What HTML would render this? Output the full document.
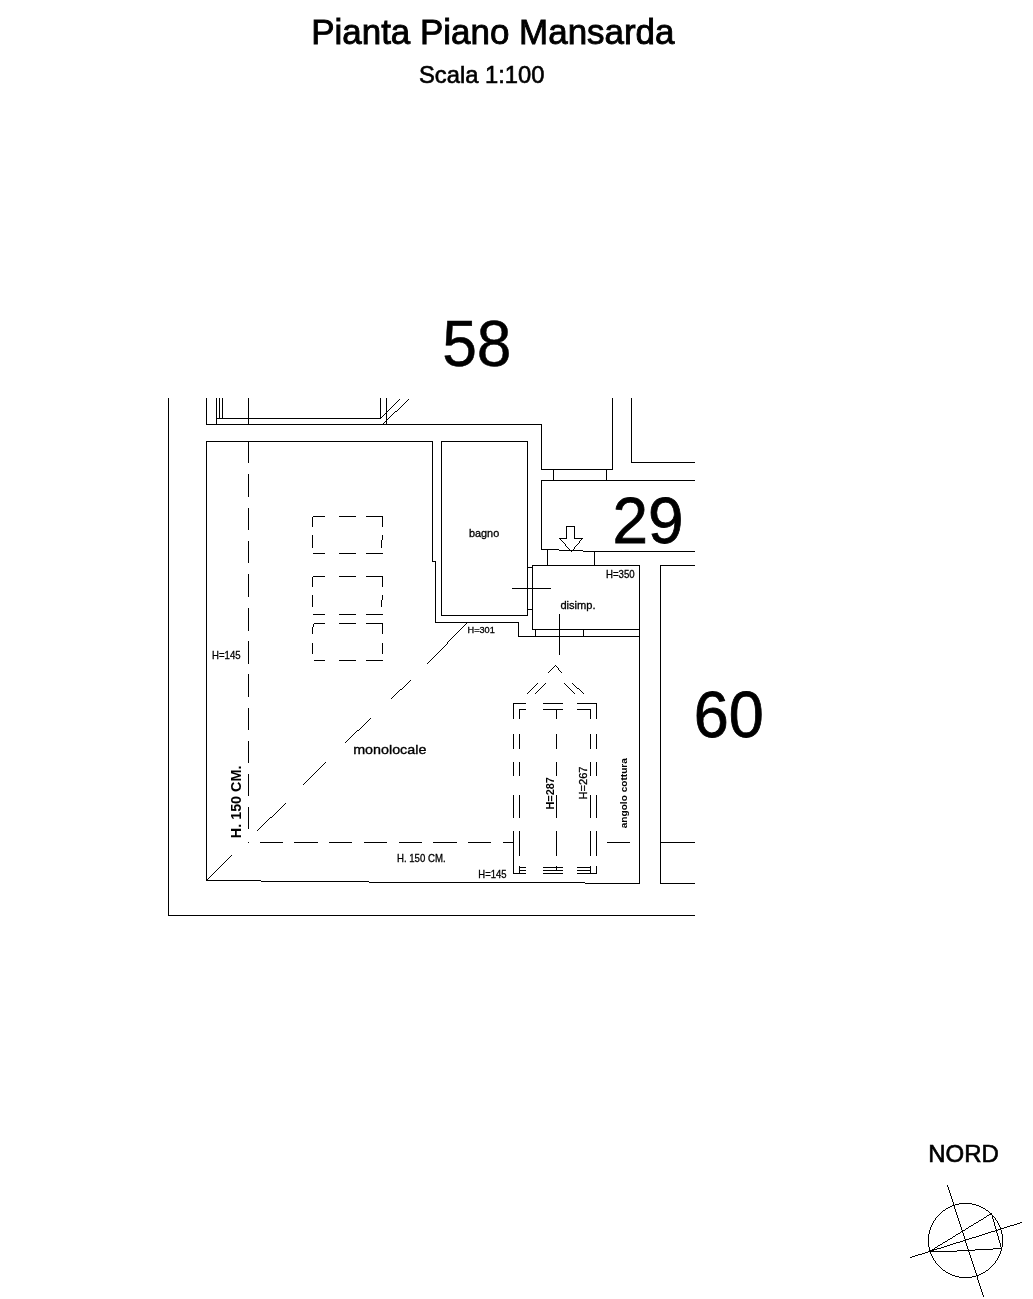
<!DOCTYPE html>
<html>
<head>
<meta charset="utf-8">
<title>Pianta Piano Mansarda</title>
<style>
html,body{margin:0;padding:0;background:#fff;}
body{width:1033px;height:1299px;overflow:hidden;font-family:"Liberation Sans",sans-serif;}
svg{display:block;position:absolute;left:0;top:0;filter:grayscale(1);}
text{font-family:"Liberation Sans",sans-serif;fill:#000;}
.w{fill:none;stroke:#000;stroke-width:1;shape-rendering:crispEdges;}
.d{fill:none;stroke:#000;stroke-width:1;shape-rendering:crispEdges;}
</style>
</head>
<body>
<svg width="1033" height="1299" viewBox="0 0 1033 1299">
<rect x="0" y="0" width="1033" height="1299" fill="#fff"/>

<!-- titles -->
<text x="311.2" y="43.5" font-size="35" textLength="363.3" lengthAdjust="spacingAndGlyphs" stroke="#000" stroke-width="0.9">Pianta Piano Mansarda</text>
<text x="419" y="83.4" font-size="23.2" textLength="125.5" lengthAdjust="spacingAndGlyphs" stroke="#000" stroke-width="0.6">Scala 1:100</text>

<!-- big numbers -->
<text x="442.2" y="365.8" font-size="64.6" textLength="69.3" lengthAdjust="spacingAndGlyphs" stroke="#000" stroke-width="0.5">58</text>
<text x="612.6" y="542.9" font-size="64.9" textLength="71" lengthAdjust="spacingAndGlyphs" stroke="#000" stroke-width="0.8">29</text>
<text x="693.8" y="736.5" font-size="64.4" textLength="70" lengthAdjust="spacingAndGlyphs" stroke="#000" stroke-width="0.8">60</text>

<!-- outer walls -->
<path class="w" d="M168.5,398 V915.5 H695"/>

<!-- top-left structure -->
<path class="w" d="M206.5,398 V424.5 H541.5 V469.5 H612.5 V398"/>
<path class="w" d="M216.5,398 V424.5 M219.5,398 V418.5 M222.5,398 V418.5 M216.5,418.5 H380.5 M248.5,398 V424.5 M380.5,398 V418.5 M386.5,398 V424.5"/>
<path class="w" d="M399,399.5h1M408,399.5h1M398,400.5h1M407,400.5h1M397,401.5h1M406,401.5h1M396,402.5h1M405,402.5h1M395,403.5h1M404,403.5h1M394,404.5h1M403,404.5h1M393,405.5h1M402,405.5h1M392,406.5h1M401,406.5h1M391,407.5h1M400,407.5h1M390,408.5h1M399,408.5h1M389,409.5h1M398,409.5h1M388,410.5h1M397,410.5h1M387,411.5h1M395,411.5h2M386,412.5h1M394,412.5h1M385,413.5h1M393,413.5h1M384,414.5h1M392,414.5h1M383,415.5h1M391,415.5h1M382,416.5h1M390,416.5h1M381,417.5h1M389,417.5h1M380,418.5h1M388,418.5h1M387,419.5h1M386,420.5h1M385,421.5h1M384,422.5h1M383,423.5h1M382,424.5h1"/>

<!-- upper right -->
<path class="w" d="M631.5,398 V462.5 H695"/>

<!-- main room -->
<path class="w" d="M206.5,880 V441.5 H432.5 V561.5 H435.5 V622.5 H518.5 V636.5 H639.5"/>
<path class="w" d="M639.5,565.5 V884"/>
<path class="w" d="M206.5,880.5 H261 M261,881.5 H369 M369,882.5 H585 M585,883.5 H640"/>

<!-- bagno -->
<path class="w" d="M441.5,441.5 H527.5 V615.5 H441.5 Z"/>

<!-- disimpegno -->
<path class="w" d="M639.5,565.5 H532.5 V629.5 H639.5 M527.5,567.5 H532.5 M527.5,609.5 H532.5 M535.5,629.5 V636.5 M583.5,629.5 V636.5"/>

<!-- corridor 29 -->
<path class="w" d="M553.5,469.5 V480.5 M606.5,469.5 V480.5 M695,480.5 H541.5 V549.5 M547.5,550 V565.5 M594.5,551 V565.5"/>
<path class="w" d="M541.5,549.5 H558.6 M558.6,550.5 H583 M583,551.5 H695"/>
<path class="w" d="M566.5,538.5 V526.5 H574.5 V538.5 M559,538.5 H567 M574,538.5 H583"/>
<path class="w" d="M559,538.5h1M582,538.5h1M560,539.5h1M581,539.5h1M561,540.5h1M580,540.5h1M562,541.5h1M579,541.5h1M563,542.5h1M579,542.5h1M564,543.5h1M578,543.5h1M565,544.5h1M577,544.5h1M565,545.5h1M576,545.5h1M566,546.5h1M575,546.5h1M567,547.5h1M574,547.5h1M568,548.5h1M574,548.5h1M569,549.5h1M573,549.5h1M570,550.5h1M572,550.5h1M571,551.5h1"/>

<!-- right room 60 -->
<path class="w" d="M695,565.5 H660.5 V883.5 H695 M660.5,842.5 H695"/>

<!-- crosses -->
<path class="w" d="M512,588.5 H551 M559.5,613.5 V654.5"/>

<!-- dashed vertical H150 -->
<path class="w" d="M248.5,441.5 V462.8 M248.5,474.2 V496.7 M248.5,507.7 V529.6 M248.5,540.6 V563.1 M248.5,573.5 V597 M248.5,607.5 V630.9 M248.5,640.9 V663.8 M248.5,674.2 V696.7 M248.5,707.7 V730.2 M248.5,741 V763.2 M248.5,773.7 V795.8 M248.5,806.8 V829.3 M248.5,841.5 V843"/>
<!-- dashed horizontal H150 -->
<path class="w" d="M259.7,842.5 H282.6 M294,842.5 H317.5 M329.1,842.5 H351.5 M364.3,842.5 H386.8 M398.8,842.5 H421.7 M433.3,842.5 H456.6 M468,842.5 H490.5 M503,842.5 H513.5 M607,842.5 H630"/>

<!-- dashed diagonal -->
<path class="w" d="M467,622.5h1M466,623.5h1M465,624.5h1M464,625.5h1M463,626.5h1M462,627.5h1M461,628.5h1M460,629.5h1M459,630.5h1M458,631.5h1M457,632.5h1M456,633.5h1M455,634.5h1M454,635.5h1M453,636.5h1M452,637.5h1M451,638.5h1M450,639.5h1M449,640.5h1M448,641.5h1M447,642.5h1M447,643.5h1M446,644.5h1M445,645.5h1M444,646.5h1M443,647.5h1M442,648.5h1M441,649.5h1M440,650.5h1M439,651.5h1M438,652.5h1M437,653.5h1M436,654.5h1M435,655.5h1M434,656.5h1M433,657.5h1M432,658.5h1M431,659.5h1M430,660.5h1M429,661.5h1M428,662.5h1M427,663.5h1M410,680.5h1M409,681.5h1M408,682.5h1M407,683.5h1M406,684.5h1M405,685.5h1M404,686.5h1M403,687.5h1M402,688.5h1M400,689.5h2M399,690.5h1M398,691.5h1M397,692.5h1M396,693.5h1M395,694.5h1M394,695.5h1M393,696.5h1M392,697.5h1M391,698.5h1M370,718.5h1M369,719.5h1M368,720.5h1M367,721.5h1M366,722.5h1M365,723.5h1M364,724.5h1M363,725.5h1M362,726.5h1M361,727.5h1M360,728.5h1M359,729.5h1M357,730.5h2M356,731.5h1M355,732.5h1M354,733.5h1M353,734.5h1M352,735.5h1M351,736.5h1M350,737.5h1M349,738.5h1M348,739.5h1M347,740.5h1M346,741.5h1M345,742.5h1M325,762.5h1M324,763.5h1M323,764.5h1M322,765.5h1M321,766.5h1M320,767.5h1M319,768.5h1M318,769.5h1M317,770.5h1M316,771.5h1M315,772.5h1M314,773.5h1M313,774.5h1M312,775.5h1M311,776.5h1M310,777.5h1M309,778.5h1M308,779.5h1M307,780.5h1M306,781.5h1M305,782.5h1M304,783.5h1M303,784.5h1M285,803.5h1M284,804.5h1M283,805.5h1M282,806.5h1M281,807.5h1M280,808.5h1M279,809.5h1M278,810.5h1M277,811.5h1M276,812.5h1M275,813.5h1M274,814.5h1M273,815.5h1M272,816.5h1M270,817.5h2M269,818.5h1M268,819.5h1M267,820.5h1M266,821.5h1M265,822.5h1M264,823.5h1M263,824.5h1M262,825.5h1M261,826.5h1M260,827.5h1M259,828.5h1M258,829.5h1M257,830.5h1M231,855.5h1M230,856.5h1M229,857.5h1M228,858.5h1M227,859.5h1M226,860.5h1M225,861.5h1M224,862.5h1M223,863.5h1M222,864.5h1M221,865.5h1M220,866.5h1M219,867.5h1M218,868.5h1M217,869.5h1M216,870.5h1M215,871.5h1M214,872.5h1M213,873.5h1M212,874.5h1M211,875.5h1M210,876.5h1M209,877.5h1M208,878.5h1M207,879.5h1M206,880.5h1"/>

<!-- dashed skylight rectangles -->
<g class="w">
<path d="M312.5,516.5 H325 M339.3,516.5 H355.8 M366.4,516.5 H382.5 M312.5,553.5 H325 M339.3,553.5 H355.8 M366.4,553.5 H382.5 M312.5,516.5 V526.6 M312.5,535.2 V547.5 M382.5,516.5 V526.6 M382.5,535.2 V540 M381.5,540 V547.5"/>
<path d="M312.5,576.5 H325 M339.3,576.5 H355.8 M366.4,576.5 H382.5 M312.5,614.5 H325 M339.3,614.5 H355.8 M366.4,614.5 H382.5 M312.5,576.5 V586.5 M312.5,595.4 V606.8 M382.5,576.5 V586.5 M382.5,595.4 V600 M381.5,600 V606.8"/>
<path d="M313.5,623.5 H325 M339.3,623.5 H355.8 M366.4,623.5 H382.5 M313.5,660.5 H325 M339.3,660.5 H355.8 M366.4,660.5 H382.5 M313.5,623.5 V627 M312.5,627 V633.7 M312.5,642.7 V654.1 M382.5,623.5 V633.7 M382.5,642.7 V654.1"/>
</g>

<!-- dormer (dashed) -->
<path class="w" d="M555,665.5h1M554,666.5h1M556,666.5h1M553,667.5h1M557,667.5h1M552,668.5h1M558,668.5h1M551,669.5h1M558,669.5h1M550,670.5h1M559,670.5h1M549,671.5h1M560,671.5h1M548,672.5h1M561,672.5h1M537,683.5h1M545,683.5h1M564,683.5h1M572,683.5h1M536,684.5h1M544,684.5h1M565,684.5h1M573,684.5h1M535,685.5h1M543,685.5h1M566,685.5h1M574,685.5h1M534,686.5h1M542,686.5h1M567,686.5h1M575,686.5h1M533,687.5h1M541,687.5h1M568,687.5h1M576,687.5h1M532,688.5h1M540,688.5h1M569,688.5h1M577,688.5h2M531,689.5h1M539,689.5h1M570,689.5h1M579,689.5h1M530,690.5h1M538,690.5h1M571,690.5h1M580,690.5h1M529,691.5h1M537,691.5h1M572,691.5h1M581,691.5h1M528,692.5h1M536,692.5h1M573,692.5h1M582,692.5h1M527,693.5h1M535,693.5h1M574,693.5h1M583,693.5h1"/>
<g class="w">
<!-- top corners -->
<path d="M513.5,718.9 V703.5 H525.5 M519.5,718.9 V709.5 H525.5 M543.3,703.5 H562.8 M543.3,709.5 H562.8 M556.5,709.5 V718.9 M577.4,703.5 H596.5 V718.9 M577.4,709.5 H590.5 V718.9"/>
<!-- dashes -->
<path d="M513.5,734.3 V749.4 M519.5,734.3 V749.4 M556.5,734.3 V749.4 M590.5,734.3 V749.4 M596.5,734.3 V749.4"/>
<path d="M513.5,762.2 V775.7 M519.5,762.2 V775.7 M556.5,762.2 V775.7 M590.5,762.2 V775.7 M596.5,762.2 V775.7"/>
<path d="M513.5,794.7 V818.2 M519.5,794.7 V818.2 M556.5,794.7 V818.2 M590.5,794.7 V818.2 M596.5,794.7 V818.2"/>
<path d="M513.5,831.2 V873.5 H525.5 M519.5,831.2 V855.5 M556.5,831.2 V855.5 M590.5,831.2 V855.5 M596.5,831.2 V855.5"/>
<!-- bottom -->
<path d="M519.5,865.9 V873.5 M519.5,867.5 H525.5 M519.5,870.5 H525.5 M543.3,867.5 H562.8 M543.3,870.5 H562.8 M543.3,873.5 H562.8 M556.5,865.9 V870.5 M577.4,867.5 H590.5 M577.4,870.5 H590.5 M577.4,873.5 H596.5 M590.5,865.9 V873.5 M596.5,865.9 V873.5"/>
</g>

<!-- labels -->
<text x="469" y="536.6" font-size="11" textLength="30.2" lengthAdjust="spacingAndGlyphs" stroke="#000" stroke-width="0.3">bagno</text>
<text x="560.4" y="608.8" font-size="11" textLength="35.2" lengthAdjust="spacingAndGlyphs" stroke="#000" stroke-width="0.3">disimp.</text>
<text x="606" y="577.9" font-size="10.3" textLength="28.6" lengthAdjust="spacingAndGlyphs" stroke="#000" stroke-width="0.3">H=350</text>
<text x="467.5" y="633.3" font-size="9.5" textLength="27.3" lengthAdjust="spacingAndGlyphs" stroke="#000" stroke-width="0.3">H=301</text>
<text x="212.1" y="658.8" font-size="10.3" textLength="28.5" lengthAdjust="spacingAndGlyphs" stroke="#000" stroke-width="0.3">H=145</text>
<text x="478.3" y="877.6" font-size="10.3" textLength="28.2" lengthAdjust="spacingAndGlyphs" stroke="#000" stroke-width="0.3">H=145</text>
<text x="397" y="861.6" font-size="10.5" textLength="48.6" lengthAdjust="spacingAndGlyphs" stroke="#000" stroke-width="0.3">H. 150 CM.</text>
<text x="353.2" y="753.7" font-size="13" textLength="73.2" lengthAdjust="spacingAndGlyphs" stroke="#000" stroke-width="0.35">monolocale</text>

<!-- rotated labels -->
<text transform="translate(241.3,838.2) rotate(-90)" font-size="14.9" font-weight="bold" textLength="72.6" lengthAdjust="spacingAndGlyphs">H. 150 CM.</text>
<text transform="translate(554.3,809.5) rotate(-90)" font-size="11.2" font-weight="bold" textLength="32.4" lengthAdjust="spacingAndGlyphs">H=287</text>
<text transform="translate(587,799.5) rotate(-90)" font-size="11.2" textLength="33" lengthAdjust="spacingAndGlyphs" stroke="#000" stroke-width="0.3">H=267</text>
<text transform="translate(627.4,828.3) rotate(-90)" font-size="8.2" font-weight="bold" textLength="70.2" lengthAdjust="spacingAndGlyphs">angolo cottura</text>

<!-- NORD compass -->
<text x="928.2" y="1161.6" font-size="23" textLength="70.6" lengthAdjust="spacingAndGlyphs" stroke="#000" stroke-width="0.6">NORD</text>
<path class="w" d="M959,1203.5h13M955,1204.5h4M972,1204.5h4M952,1205.5h3M976,1205.5h3M950,1206.5h2M979,1206.5h2M948,1207.5h2M981,1207.5h2M946,1208.5h2M983,1208.5h2M945,1209.5h1M985,1209.5h1M943,1210.5h2M986,1210.5h2M942,1211.5h1M988,1211.5h1M941,1212.5h1M989,1212.5h1M940,1213.5h1M990,1213.5h1M939,1214.5h1M991,1214.5h1M938,1215.5h1M992,1215.5h1M937,1216.5h1M993,1216.5h1M936,1217.5h1M994,1217.5h1M935,1218.5h1M995,1218.5h1M935,1219.5h1M995,1219.5h1M934,1220.5h1M996,1220.5h1M933,1221.5h1M997,1221.5h1M933,1222.5h1M997,1222.5h1M932,1223.5h1M998,1223.5h1M932,1224.5h1M998,1224.5h1M931,1225.5h1M999,1225.5h1M931,1226.5h1M999,1226.5h1M930,1227.5h1M1000,1227.5h1M930,1228.5h1M1000,1228.5h1M930,1229.5h1M1000,1229.5h1M929,1230.5h1M1001,1230.5h1M929,1231.5h1M1001,1231.5h1M929,1232.5h1M1001,1232.5h1M929,1233.5h1M1001,1233.5h1M928,1234.5h1M1002,1234.5h1M928,1235.5h1M1002,1235.5h1M928,1236.5h1M1002,1236.5h1M928,1237.5h1M1002,1237.5h1M928,1238.5h1M1002,1238.5h1M928,1239.5h1M1002,1239.5h1M928,1240.5h1M1002,1240.5h1M928,1241.5h1M1002,1241.5h1M928,1242.5h1M1002,1242.5h1M928,1243.5h1M1002,1243.5h1M928,1244.5h1M1002,1244.5h1M928,1245.5h1M1002,1245.5h1M928,1246.5h1M1002,1246.5h1M929,1247.5h1M1001,1247.5h1M929,1248.5h1M1001,1248.5h1M929,1249.5h1M1001,1249.5h1M929,1250.5h1M1001,1250.5h1M930,1251.5h1M1000,1251.5h1M930,1252.5h1M1000,1252.5h1M930,1253.5h1M1000,1253.5h1M931,1254.5h1M999,1254.5h1M931,1255.5h1M999,1255.5h1M932,1256.5h1M998,1256.5h1M932,1257.5h1M998,1257.5h1M933,1258.5h1M997,1258.5h1M933,1259.5h1M997,1259.5h1M934,1260.5h1M996,1260.5h1M935,1261.5h1M995,1261.5h1M935,1262.5h1M995,1262.5h1M936,1263.5h1M994,1263.5h1M937,1264.5h1M993,1264.5h1M938,1265.5h1M992,1265.5h1M939,1266.5h1M991,1266.5h1M940,1267.5h1M990,1267.5h1M941,1268.5h1M989,1268.5h1M942,1269.5h1M988,1269.5h1M943,1270.5h2M986,1270.5h2M945,1271.5h1M985,1271.5h1M946,1272.5h2M983,1272.5h2M948,1273.5h2M981,1273.5h2M950,1274.5h2M979,1274.5h2M952,1275.5h3M976,1275.5h3M955,1276.5h4M972,1276.5h4M959,1277.5h13"/>
<path class="w" d="M947,1185.5h1M947,1186.5h1M948,1187.5h1M948,1188.5h1M948,1189.5h1M949,1190.5h1M949,1191.5h1M949,1192.5h1M950,1193.5h1M950,1194.5h1M950,1195.5h1M951,1196.5h1M951,1197.5h1M951,1198.5h1M952,1199.5h1M952,1200.5h1M952,1201.5h1M953,1202.5h1M953,1203.5h1M953,1204.5h1M953,1205.5h1M954,1206.5h1M954,1207.5h1M954,1208.5h1M955,1209.5h1M955,1210.5h1M955,1211.5h1M956,1212.5h1M956,1213.5h1M991,1213.5h1M956,1214.5h1M989,1214.5h3M957,1215.5h1M987,1215.5h2M992,1215.5h1M957,1216.5h1M986,1216.5h1M992,1216.5h1M957,1217.5h1M984,1217.5h2M992,1217.5h1M958,1218.5h1M983,1218.5h1M992,1218.5h1M958,1219.5h1M981,1219.5h2M993,1219.5h1M958,1220.5h1M979,1220.5h2M993,1220.5h1M959,1221.5h1M978,1221.5h1M993,1221.5h1M959,1222.5h1M976,1222.5h2M994,1222.5h1M1020,1222.5h2M959,1223.5h1M974,1223.5h2M994,1223.5h1M1017,1223.5h3M960,1224.5h1M973,1224.5h1M994,1224.5h1M1014,1224.5h3M960,1225.5h1M971,1225.5h2M994,1225.5h1M1010,1225.5h4M960,1226.5h1M969,1226.5h2M995,1226.5h1M1007,1226.5h3M961,1227.5h1M968,1227.5h1M995,1227.5h1M1004,1227.5h3M961,1228.5h1M966,1228.5h2M995,1228.5h1M1001,1228.5h3M961,1229.5h1M965,1229.5h1M996,1229.5h1M998,1229.5h3M962,1230.5h3M995,1230.5h3M961,1231.5h2M991,1231.5h4M996,1231.5h1M960,1232.5h1M962,1232.5h1M988,1232.5h3M996,1232.5h1M958,1233.5h2M963,1233.5h1M985,1233.5h3M997,1233.5h1M956,1234.5h2M963,1234.5h1M982,1234.5h3M997,1234.5h1M955,1235.5h1M963,1235.5h1M979,1235.5h3M997,1235.5h1M953,1236.5h2M964,1236.5h1M976,1236.5h3M998,1236.5h1M952,1237.5h1M964,1237.5h1M972,1237.5h4M998,1237.5h1M950,1238.5h2M964,1238.5h1M969,1238.5h3M998,1238.5h1M948,1239.5h2M965,1239.5h4M998,1239.5h1M947,1240.5h1M963,1240.5h3M999,1240.5h1M945,1241.5h2M960,1241.5h3M965,1241.5h1M999,1241.5h1M943,1242.5h2M956,1242.5h4M965,1242.5h1M999,1242.5h1M942,1243.5h1M953,1243.5h3M966,1243.5h1M1000,1243.5h1M940,1244.5h2M950,1244.5h3M966,1244.5h1M1000,1244.5h1M938,1245.5h2M947,1245.5h3M966,1245.5h1M1000,1245.5h1M937,1246.5h1M944,1246.5h3M967,1246.5h1M1000,1246.5h1M935,1247.5h2M941,1247.5h3M967,1247.5h1M1001,1247.5h1M934,1248.5h1M937,1248.5h4M967,1248.5h1M1001,1248.5h1M932,1249.5h5M968,1249.5h1M930,1250.5h4M968,1250.5h1M928,1251.5h3M968,1251.5h1M925,1252.5h3M969,1252.5h1M922,1253.5h3M969,1253.5h1M918,1254.5h4M969,1254.5h1M915,1255.5h3M970,1255.5h1M912,1256.5h3M970,1256.5h1M910,1257.5h2M970,1257.5h1M971,1258.5h1M971,1259.5h1M971,1260.5h1M972,1261.5h1M972,1262.5h1M972,1263.5h1M973,1264.5h1M973,1265.5h1M973,1266.5h1M974,1267.5h1M974,1268.5h1M974,1269.5h1M975,1270.5h1M975,1271.5h1M975,1272.5h1M976,1273.5h1M976,1274.5h1M976,1275.5h1M977,1276.5h1M977,1277.5h1M977,1278.5h1M977,1279.5h1M978,1280.5h1M978,1281.5h1M978,1282.5h1M979,1283.5h1M979,1284.5h1M979,1285.5h1M980,1286.5h1M980,1287.5h1M980,1288.5h1M981,1289.5h1M981,1290.5h1M981,1291.5h1M982,1292.5h1M982,1293.5h1M982,1294.5h1M983,1295.5h1M983,1296.5h1"/>
<path class="w" d="M930,1251.5 H957 M957,1250.5 H975 M975,1249.5 H993 M993,1248.5 H1002"/>
</svg>
</body>
</html>
